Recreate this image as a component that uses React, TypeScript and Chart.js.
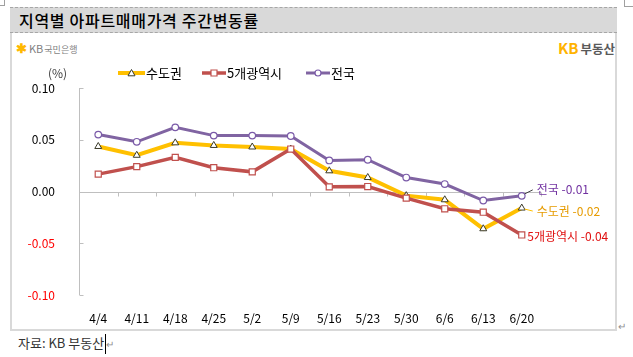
import React, { useEffect, useRef } from "react";
import { Chart, registerables } from "chart.js";

Chart.register(...registerables);

const FONT = "'Noto Sans CJK KR', 'Noto Sans', sans-serif";

const categories = ["4/4", "4/11", "4/18", "4/25", "5/2", "5/9", "5/16", "5/23", "5/30", "6/6", "6/13", "6/20"];
const seriesNames = ["수도권", "5개광역시", "전국"];
const capital = [0.0435, 0.035, 0.047, 0.0445, 0.043, 0.041, 0.02, 0.0135, -0.004, -0.008, -0.036, -0.016];
const metro5 = [0.0168, 0.024, 0.033, 0.023, 0.019, 0.041, 0.0045, 0.0048, -0.0064, -0.0167, -0.02, -0.042];
const national = [0.055, 0.048, 0.062, 0.054, 0.054, 0.0536, 0.03, 0.0307, 0.0135, 0.0072, -0.0087, -0.0042];
const lastLabels = ["-0.02", "-0.04", "-0.01"];
const yTicks = [-0.1, -0.05, 0, 0.05, 0.1];

const lineColors = ["#FFC000", "#C0504D", "#8064A2"];
const labelColors = ["#E69B00", "#E01010", "#7030A0"];

const decorPlugin = {
  id: "decor",
  beforeDatasetsDraw(chart: any) {
    const { ctx, chartArea } = chart;
    const x = chart.scales.x;
    const y = chart.scales.y;
    ctx.save();
    ctx.strokeStyle = "#bfbfbf";
    ctx.lineWidth = 1;
    const ax = Math.round(chartArea.left) + 0.5;
    ctx.beginPath();
    ctx.moveTo(ax, y.getPixelForValue(0.1));
    ctx.lineTo(ax, y.getPixelForValue(-0.1));
    ctx.stroke();
    yTicks.forEach((v) => {
      const py = Math.round(y.getPixelForValue(v)) + 0.5;
      ctx.beginPath();
      ctx.moveTo(ax, py);
      ctx.lineTo(ax + 4, py);
      ctx.stroke();
    });
    const y0 = Math.round(y.getPixelForValue(0)) + 0.5;
    ctx.beginPath();
    ctx.moveTo(ax, y0);
    ctx.lineTo(chartArea.right, y0);
    ctx.stroke();
    const step = x.getPixelForValue(1) - x.getPixelForValue(0);
    for (let i = 0; i < categories.length; i++) {
      const px = Math.round(x.getPixelForValue(i) + step / 2) + 0.5;
      ctx.beginPath();
      ctx.moveTo(px, y0);
      ctx.lineTo(px, y0 + 4);
      ctx.stroke();
    }
    ctx.restore();
  },
  afterDatasetsDraw(chart: any) {
    const { ctx } = chart;
    ctx.save();
    ctx.font = `12px ${FONT}`;
    ctx.textBaseline = "middle";
    ctx.textAlign = "left";
    const offs = [
      { dx: 15, dy: 3, lead: true },
      { dx: 5.5, dy: 1, lead: false },
      { dx: 15, dy: -6, lead: true },
    ];
    chart.data.datasets.forEach((ds: any, i: number) => {
      const meta = chart.getDatasetMeta(i);
      const pt = meta.data[meta.data.length - 1];
      const o = offs[i];
      if (o.lead) {
        ctx.strokeStyle = i === 0 ? "#FFC000" : "#404040";
        ctx.lineWidth = 1;
        ctx.beginPath();
        ctx.moveTo(pt.x + 3, pt.y + (o.dy > 0 ? 1 : -2));
        ctx.lineTo(pt.x + o.dx - 4, pt.y + o.dy);
        ctx.stroke();
      }
      ctx.fillStyle = labelColors[i];
      ctx.fillText(`${seriesNames[i]} ${lastLabels[i]}`, pt.x + o.dx, pt.y + o.dy);
    });
    ctx.restore();
  },
  afterDraw(chart: any) {
    const { ctx } = chart;
    ctx.save();
    ctx.font = `12px ${FONT}`;
    ctx.fillStyle = "#404040";
    ctx.textBaseline = "middle";
    ctx.textAlign = "left";
    ctx.fillText("(%)", 48, 73);
    const items = [
      { x: 118, len: 27 },
      { x: 202, len: 24 },
      { x: 306, len: 24 },
    ];
    chart.data.datasets.forEach((ds: any, i: number) => {
      const it = items[i];
      const yy = 73;
      ctx.strokeStyle = ds.borderColor;
      ctx.lineWidth = ds.borderWidth;
      ctx.beginPath();
      ctx.moveTo(it.x, yy);
      ctx.lineTo(it.x + it.len, yy);
      ctx.stroke();
      const cx = it.x + it.len / 2;
      ctx.fillStyle = ds.pointBackgroundColor;
      ctx.strokeStyle = ds.pointBorderColor;
      ctx.lineWidth = ds.pointBorderWidth;
      ctx.beginPath();
      if (ds.pointStyle === "triangle") {
        const r = 3.5;
        ctx.moveTo(cx, yy - r);
        ctx.lineTo(cx + r, yy + r * 0.8);
        ctx.lineTo(cx - r, yy + r * 0.8);
        ctx.closePath();
      } else if (ds.pointStyle === "rect") {
        ctx.rect(cx - 3, yy - 3, 6, 6);
      } else {
        ctx.arc(cx, yy, 3, 0, Math.PI * 2);
      }
      ctx.fill();
      ctx.stroke();
      ctx.font = `13px ${FONT}`;
      ctx.fillStyle = "#000";
      ctx.fillText(seriesNames[i], it.x + it.len + 1, yy);
    });
    ctx.restore();
  },
};

export default function App() {
  const ref = useRef<HTMLCanvasElement | null>(null);
  useEffect(() => {
    if (!ref.current) return;
    const chart = new Chart(ref.current, {
      type: "line",
      data: {
        labels: categories,
        datasets: [
          {
            label: seriesNames[0],
            data: capital,
            borderColor: lineColors[0],
            borderWidth: 4,
            pointStyle: "triangle",
            pointRadius: 4,
            pointBackgroundColor: "#ffffff",
            pointBorderColor: "#3a3a2a",
            pointBorderWidth: 1,
            order: 1,
          },
          {
            label: seriesNames[1],
            data: metro5,
            borderColor: lineColors[1],
            borderWidth: 3.5,
            pointStyle: "rect",
            pointRadius: 4.3,
            pointBackgroundColor: "#ffffff",
            pointBorderColor: "#C0504D",
            pointBorderWidth: 1.2,
            order: 0,
          },
          {
            label: seriesNames[2],
            data: national,
            borderColor: lineColors[2],
            borderWidth: 3,
            pointStyle: "circle",
            pointRadius: 3.3,
            pointBackgroundColor: "#ffffff",
            pointBorderColor: "#7a5aa8",
            pointBorderWidth: 1.2,
            order: 2,
          },
        ] as any,
      },
      options: {
        responsive: false,
        animation: false,
        devicePixelRatio: 1,
        layout: { padding: { left: 0, right: 92, top: 88, bottom: 0 } },
        plugins: { legend: { display: false }, tooltip: { enabled: false } },
        elements: { line: { tension: 0 } },
        scales: {
          x: {
            offset: true,
            grid: { display: false },
            border: { display: false },
            ticks: {
              color: "#000",
              font: { size: 12, family: FONT },
              padding: 8,
              maxRotation: 0,
              autoSkip: false,
            },
            afterFit: (s: any) => {
              s.height = 62;
            },
          },
          y: {
            min: -0.1,
            max: 0.1,
            grid: { display: false },
            border: { display: false },
            ticks: {
              stepSize: 0.05,
              callback: (v: any) => Number(v).toFixed(2),
              color: (c: any) => (c.tick && c.tick.value < -1e-9 ? "#FF0000" : "#000"),
              font: { size: 12, family: FONT },
              padding: 16,
            },
            afterFit: (s: any) => {
              s.width = 79;
            },
          },
        },
      },
      plugins: [decorPlugin],
    });
    return () => chart.destroy();
  }, []);

  const mark = { position: "absolute" as const, background: "#a0a0a0" };
  return (
    <div
      style={{
        position: "fixed",
        left: 0,
        top: 0,
        width: 633,
        height: 357,
        background: "#fff",
        fontFamily: FONT,
        overflow: "hidden",
      }}
    >
      <div style={{ ...mark, left: 4, top: 0, width: 1, height: 6 }} />
      <div style={{ ...mark, left: 0, top: 5, width: 5, height: 1 }} />
      <div style={{ ...mark, left: 624, top: 0, width: 1, height: 7 }} />
      <div style={{ ...mark, left: 624, top: 6, width: 9, height: 1 }} />
      <div
        style={{
          position: "absolute",
          left: 10,
          top: 7,
          width: 607,
          height: 26,
          background: "#d9d9d9",
          borderTop: "1px dashed #a6a6a6",
          borderBottom: "1px dashed #a6a6a6",
          boxSizing: "border-box",
          paddingLeft: 9,
          fontSize: 16,
          letterSpacing: "0.7px",
          lineHeight: "24px",
          color: "#000",
          fontWeight: 500,
          whiteSpace: "nowrap",
        }}
      >
        지역별 아파트매매가격 주간변동률
      </div>
      <div
        style={{
          position: "absolute",
          left: 10,
          top: 33,
          width: 607,
          height: 298,
          borderLeft: "2px solid #d9d9d9",
          borderRight: "2px solid #d9d9d9",
          borderBottom: "2px solid #d9d9d9",
          boxSizing: "border-box",
        }}
      />
      <div
        style={{
          position: "absolute",
          left: 16,
          top: 38,
          height: 16,
          lineHeight: "16px",
          whiteSpace: "nowrap",
          color: "#7f7f7f",
        }}
      >
        <span style={{ color: "#FFB800", fontSize: 13, fontWeight: 700 }}>✱</span>
        <span style={{ fontSize: 11, marginLeft: 2 }}>KB</span>
        <span style={{ fontSize: 9, marginLeft: 1 }}>국민은행</span>
      </div>
      <div
        style={{
          position: "absolute",
          left: 558,
          top: 37,
          height: 20,
          lineHeight: "20px",
          whiteSpace: "nowrap",
          fontWeight: 700,
        }}
      >
        <span style={{ color: "#FFB300", fontSize: 15 }}>KB</span>
        <span style={{ color: "#5a5a5a", fontSize: 12.5, marginLeft: 2 }}>부동산</span>
      </div>
      <div style={{ position: "absolute", left: 618, top: 318, fontSize: 10, color: "#909090" }}>↵</div>
      <div
        style={{
          position: "absolute",
          left: 18,
          top: 334,
          fontSize: 13,
          lineHeight: "18px",
          color: "#333",
          whiteSpace: "nowrap",
        }}
      >
        자료: KB 부동산
        <span
          style={{
            display: "inline-block",
            width: 1,
            height: 20,
            background: "#000",
            verticalAlign: "middle",
            marginLeft: 1,
          }}
        />
        <span style={{ fontSize: 10, color: "#909090" }}>↵</span>
      </div>
      <canvas
        ref={ref}
        width={633}
        height={357}
        style={{ position: "absolute", left: 0, top: 0, width: 633, height: 357 }}
      />
    </div>
  );
}
